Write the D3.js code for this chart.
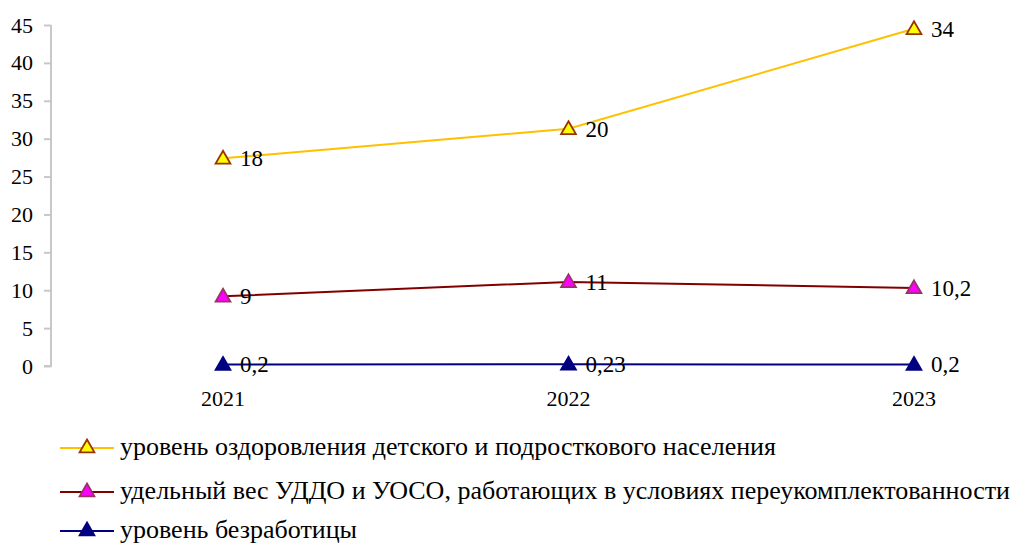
<!DOCTYPE html>
<html>
<head>
<meta charset="utf-8">
<script src="https://cdnjs.cloudflare.com/ajax/libs/d3/7.8.5/d3.min.js"></script>
<style>
  body { margin: 0; background: #fff; }
</style>
</head>
<body>
<script>
// data
const years = ['2021', '2022', '2023'];
const yTicks = [0, 5, 10, 15, 20, 25, 30, 35, 40, 45];

const healthValues = [27.4, 31.3, 44.5];
const healthLabels = ['18', '20', '34'];

const staffValues = [9.2, 11.1, 10.3];
const staffLabels = ['9', '11', '10,2'];

const jobValues = [0.2, 0.23, 0.2];
const jobLabels = ['0,2', '0,23', '0,2'];

const seriesNames = [
  'уровень оздоровления детского и подросткового населения',
  'удельный вес УДДО и УОСО, работающих в условиях переукомплектованности',
  'уровень безработицы'
];

const series = [
  {name: seriesNames[0], values: healthValues, labels: healthLabels, line: '#ffc000', fill: '#ffff00', stroke: '#993300'},
  {name: seriesNames[1], values: staffValues, labels: staffLabels, line: '#800000', fill: '#ff00ff', stroke: '#993366'},
  {name: seriesNames[2], values: jobValues, labels: jobLabels, line: '#000080', fill: '#000080', stroke: '#000080'}
];

const W = 1012, H = 545;
const FONT = "'Times New Roman', Tinos, serif";

const svg = d3.select('body').append('svg')
  .attr('width', W)
  .attr('height', H)
  .style('display', 'block');

const x = d3.scalePoint()
  .domain(years)
  .range([223, 914]);

const y = d3.scaleLinear()
  .domain([0, 45])
  .range([366, 25]);

// y axis
const yAxis = svg.append('g')
  .attr('transform', 'translate(51,0)')
  .call(d3.axisLeft(y).tickValues(yTicks).tickSize(7).tickPadding(11));
yAxis.attr('font-family', FONT).attr('font-size', 22);
yAxis.select('.domain').attr('stroke', '#c8c8c8').attr('stroke-width', 2)
  .attr('d', 'M0,' + y(45) + 'V' + y(0) + 'H-7');
yAxis.selectAll('.tick line').attr('stroke', '#c8c8c8').attr('stroke-width', 2);
yAxis.selectAll('.tick text').attr('fill', '#000');

// x labels
svg.append('g').selectAll('text')
  .data(years)
  .enter()
  .append('text')
  .attr('x', d => x(d))
  .attr('y', 406)
  .attr('text-anchor', 'middle')
  .attr('font-family', FONT)
  .attr('font-size', 22)
  .text(d => d);

const tri = d3.symbol().type(d3.symbolTriangle).size(95);

const line = d3.line()
  .x((d, i) => x(years[i]))
  .y(d => y(d));

series.forEach(s => {
  const g = svg.append('g');
  g.append('path')
    .datum(s.values)
    .attr('fill', 'none')
    .attr('stroke', s.line)
    .attr('stroke-width', 2)
    .attr('d', line);

  g.selectAll('path.pt')
    .data(s.values)
    .enter()
    .append('path')
    .attr('class', 'pt')
    .attr('d', tri)
    .attr('transform', (d, i) => 'translate(' + x(years[i]) + ',' + (y(d) + 1) + ')')
    .attr('fill', s.fill)
    .attr('stroke', s.stroke)
    .attr('stroke-width', 1.8);

  g.selectAll('text')
    .data(s.values)
    .enter()
    .append('text')
    .attr('x', (d, i) => x(years[i]) + 17)
    .attr('y', d => y(d) + 8)
    .attr('font-family', FONT)
    .attr('font-size', 23)
    .text((d, i) => s.labels[i]);
});

// legend
const legend = svg.append('g');
const rows = [448, 492, 531];
series.forEach((s, i) => {
  const r = legend.append('g').attr('transform', 'translate(0,' + rows[i] + ')');
  r.append('line')
    .attr('x1', 60).attr('x2', 114)
    .attr('y1', 0).attr('y2', 0)
    .attr('stroke', s.line)
    .attr('stroke-width', 2);
  r.append('path')
    .attr('d', tri)
    .attr('transform', 'translate(87,0)')
    .attr('fill', s.fill)
    .attr('stroke', s.stroke)
    .attr('stroke-width', 1.8);
  r.append('text')
    .attr('x', 120)
    .attr('y', 7)
    .attr('font-family', FONT)
    .attr('font-size', 26)
    .text(s.name);
});
</script>
</body>
</html>
